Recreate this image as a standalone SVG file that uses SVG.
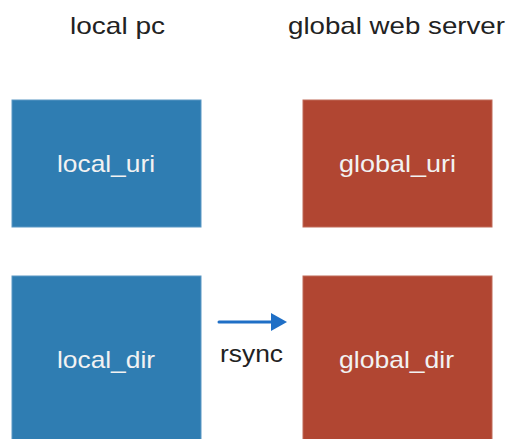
<svg xmlns="http://www.w3.org/2000/svg" width="511" height="439" viewBox="0 0 511 439">
  <style>
    .title { font-family: "Liberation Sans", Arial, sans-serif; font-size: 24px; fill: #222; text-anchor: middle; }
    .label { font-family: "Liberation Sans", Arial, sans-serif; font-size: 24px; fill: #f2f2f2; text-anchor: middle; }
    .local { fill: #2f7db2; stroke: #5b98c4; stroke-width: 1; }
    .global { fill: #b14632; stroke: #c06a58; stroke-width: 1; }
    .conn { stroke: #1f6fc6; stroke-width: 3; fill: none; stroke-linecap: round; }
  </style>
  <defs>
    <marker id="arrowhead" markerWidth="16" markerHeight="18" refX="1" refY="9" orient="auto" markerUnits="userSpaceOnUse">
      <path d="M0,0 L16,9 L0,18 Z" fill="#1f6fc6"/>
    </marker>
  </defs>
  <rect width="511" height="439" fill="#ffffff"/>

  <text class="title" x="117.5" y="34" textLength="95" lengthAdjust="spacingAndGlyphs">local pc</text>
  <text class="title" x="396.5" y="34" textLength="217" lengthAdjust="spacingAndGlyphs">global web server</text>

  <g id="local_uri">
    <rect class="local" x="12" y="100" width="189" height="127"/>
    <text class="label" x="106" y="172" textLength="98" lengthAdjust="spacingAndGlyphs">local_uri</text>
  </g>
  <g id="global_uri">
    <rect class="global" x="303" y="100" width="189" height="127"/>
    <text class="label" x="397.5" y="172" textLength="117" lengthAdjust="spacingAndGlyphs">global_uri</text>
  </g>
  <g id="local_dir">
    <rect class="local" x="12" y="276" width="189" height="170"/>
    <text class="label" x="106" y="368" textLength="98" lengthAdjust="spacingAndGlyphs">local_dir</text>
  </g>
  <g id="global_dir">
    <rect class="global" x="303" y="276" width="189" height="170"/>
    <text class="label" x="396.5" y="368" textLength="115" lengthAdjust="spacingAndGlyphs">global_dir</text>
  </g>

  <g id="connectors">
    <line class="conn" x1="219" y1="322" x2="272" y2="322" marker-end="url(#arrowhead)"/>
    <text class="title" x="251.5" y="362" textLength="63" lengthAdjust="spacingAndGlyphs">rsync</text>
  </g>
</svg>
